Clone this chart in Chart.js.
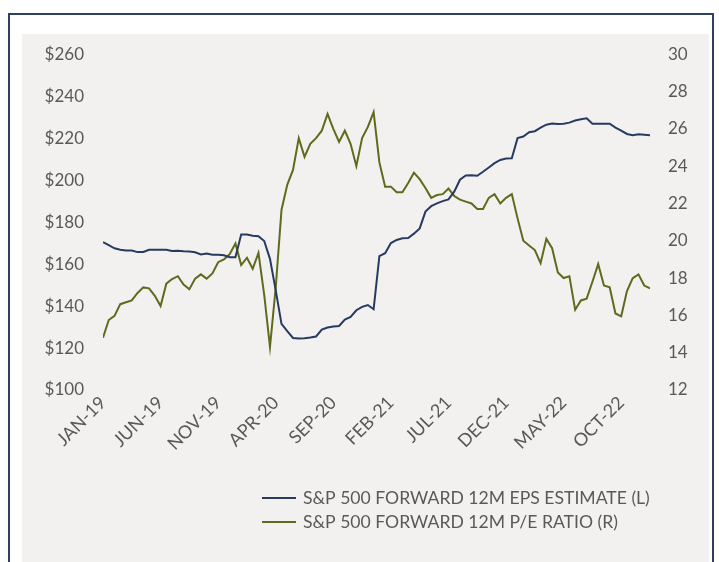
<!DOCTYPE html>
<html>
<head>
<meta charset="utf-8">
<script src="https://cdn.jsdelivr.net/npm/chart.js@4.4.1/dist/chart.umd.min.js"></script>
<style>
  html, body { margin: 0; padding: 0; background: #ffffff; overflow: hidden; width: 719px; height: 562px; }
  #frame { position: absolute; left: 8px; top: 13px; width: 702px; height: 600px; border: 2px solid #2f3f5f; }
  #panel { position: absolute; left: 22px; top: 34px; width: 687px; height: 528px; background: #f2f1f0; }
  #wrap { position: absolute; left: 0; top: -9px; width: 687px; height: 537px; }
</style>
</head>
<body>
<div id="frame"></div>
<div id="panel"><div id="wrap"><canvas id="chart"></canvas></div></div>
<script>
// one point every half month, starting Jan 2019
var STEP = 0.5;

var xTickLabels = ['JAN-19', 'JUN-19', 'NOV-19', 'APR-20', 'SEP-20', 'FEB-21', 'JUL-21', 'DEC-21', 'MAY-22', 'OCT-22'];

var epsValues = [
    170.4, 169.0, 167.5, 166.8, 166.5, 166.5, 165.7, 165.8, 166.8, 166.8,
    166.8, 166.8, 166.2, 166.3, 166.1, 166.0, 165.6, 164.6, 165.0, 164.4,
    164.4, 164.2, 163.3, 163.3, 174.1, 174.1, 173.5, 173.3, 171.0, 162.5,
    147.5, 131.5, 128.0, 124.8, 124.5, 124.7, 125.0, 125.5, 128.8, 129.8,
    130.3, 130.5, 133.5, 134.8, 138.0, 139.6, 140.5, 138.5, 163.8, 165.2,
    170.0, 171.5, 172.3, 172.4, 174.5, 177.0, 185.0, 187.6, 188.9, 190.0,
    190.8, 194.5, 200.2, 202.2, 202.3, 202.1, 204.0, 206.0, 208.1, 209.6,
    210.3, 210.4, 220.0, 220.8, 222.8, 223.3, 225.0, 226.4, 227.0, 226.8,
    226.9, 227.4, 228.4, 229.0, 229.5, 226.9, 226.9, 226.9, 226.9, 225.0,
    223.6, 222.0, 221.4, 221.8, 221.6, 221.4
];

var peValues = [
    14.8, 15.75, 15.97, 16.6, 16.7, 16.8, 17.2, 17.5, 17.45, 17.05,
    16.5, 17.7, 17.95, 18.1, 17.65, 17.4, 17.97, 18.2, 17.97, 18.25,
    18.85, 19.0, 19.28, 19.85, 18.7, 19.09, 18.5, 19.35, 17.1, 14.3,
    17.5, 21.65, 23.0, 23.8, 25.5, 24.5, 25.2, 25.5, 25.9, 26.8,
    26.0, 25.3, 25.9, 25.2, 24.0, 25.5, 26.1, 26.9, 24.2, 22.9,
    22.9, 22.6, 22.6, 23.1, 23.65, 23.3, 22.83, 22.3, 22.45, 22.5,
    22.8, 22.4, 22.2, 22.1, 22.0, 21.7, 21.7, 22.3, 22.5, 22.0,
    22.3, 22.5, 21.2, 20.0, 19.75, 19.5, 18.8, 20.1, 19.6, 18.3,
    18.0, 18.1, 16.3, 16.8, 16.9, 17.8, 18.75, 17.6, 17.5, 16.1,
    15.95, 17.3, 18.0, 18.2, 17.6, 17.45
];

var seriesLabels = ['S&P 500 FORWARD 12M EPS ESTIMATE (L)', 'S&P 500 FORWARD 12M P/E RATIO (R)'];
var NAVY = '#273a5f';
var OLIVE = '#5e6a1c';
var TEXT = '#595959';
var FONT = 'Lato';

function toPoints(values) {
    return values.map(function (v, i) { return { x: i * STEP, y: v }; });
}

// legend drawn by hand: two rows, left aligned, line samples
var lineLegend = {
    id: 'lineLegend',
    afterDraw: function (chart) {
        var ctx = chart.ctx;
        chart.data.datasets.forEach(function (ds, i) {
            var y = 473 + i * 24;
            ctx.save();
            ctx.strokeStyle = ds.borderColor;
            ctx.lineWidth = 2;
            ctx.beginPath();
            ctx.moveTo(240, y);
            ctx.lineTo(274, y);
            ctx.stroke();
            ctx.fillStyle = TEXT;
            ctx.font = '17.6px ' + FONT;
            ctx.textBaseline = 'middle';
            ctx.fillText(ds.label, 281, y);
            ctx.restore();
        });
    }
};

new Chart(document.getElementById('chart'), {
    type: 'line',
    data: {
        datasets: [{
            label: seriesLabels[0],
            data: toPoints(epsValues),
            borderColor: NAVY,
            borderWidth: 2,
            pointRadius: 0,
            tension: 0,
            yAxisID: 'yL'
        }, {
            label: seriesLabels[1],
            data: toPoints(peValues),
            borderColor: OLIVE,
            borderWidth: 2,
            pointRadius: 0,
            tension: 0,
            yAxisID: 'yR'
        }]
    },
    options: {
        responsive: true,
        maintainAspectRatio: false,
        animation: false,
        layout: { padding: { top: 10, left: 0, right: 0, bottom: 0 } },
        plugins: {
            legend: { display: false },
            tooltip: { enabled: false }
        },
        scales: {
            x: {
                type: 'linear',
                min: 0,
                max: (epsValues.length - 1) * STEP,
                grid: { display: false, drawTicks: false },
                border: { display: false },
                afterBuildTicks: function (scale) {
                    scale.ticks = xTickLabels.map(function (l, i) { return { value: i * 5 }; });
                },
                ticks: {
                    autoSkip: false,
                    minRotation: 45,
                    maxRotation: 45,
                    padding: 2,
                    color: TEXT,
                    font: { family: FONT, size: 18 },
                    callback: function (v) {
                        return xTickLabels[v / 5] || '';
                    }
                },
                afterFit: function (scale) { scale.height = 172; }
            },
            yL: {
                position: 'left',
                min: 100,
                max: 260,
                grid: { display: false, drawTicks: false },
                border: { display: false },
                ticks: {
                    stepSize: 20,
                    padding: 19,
                    color: TEXT,
                    font: { family: FONT, size: 17 },
                    callback: function (v) { return '$' + v; }
                },
                afterFit: function (scale) { scale.width = 81; }
            },
            yR: {
                position: 'right',
                min: 12,
                max: 30,
                grid: { display: false, drawTicks: false },
                border: { display: false },
                ticks: {
                    stepSize: 2,
                    padding: 18,
                    color: TEXT,
                    font: { family: FONT, size: 17 }
                },
                afterFit: function (scale) { scale.width = 59; }
            }
        }
    },
    plugins: [lineLegend]
});
</script>
</body>
</html>
